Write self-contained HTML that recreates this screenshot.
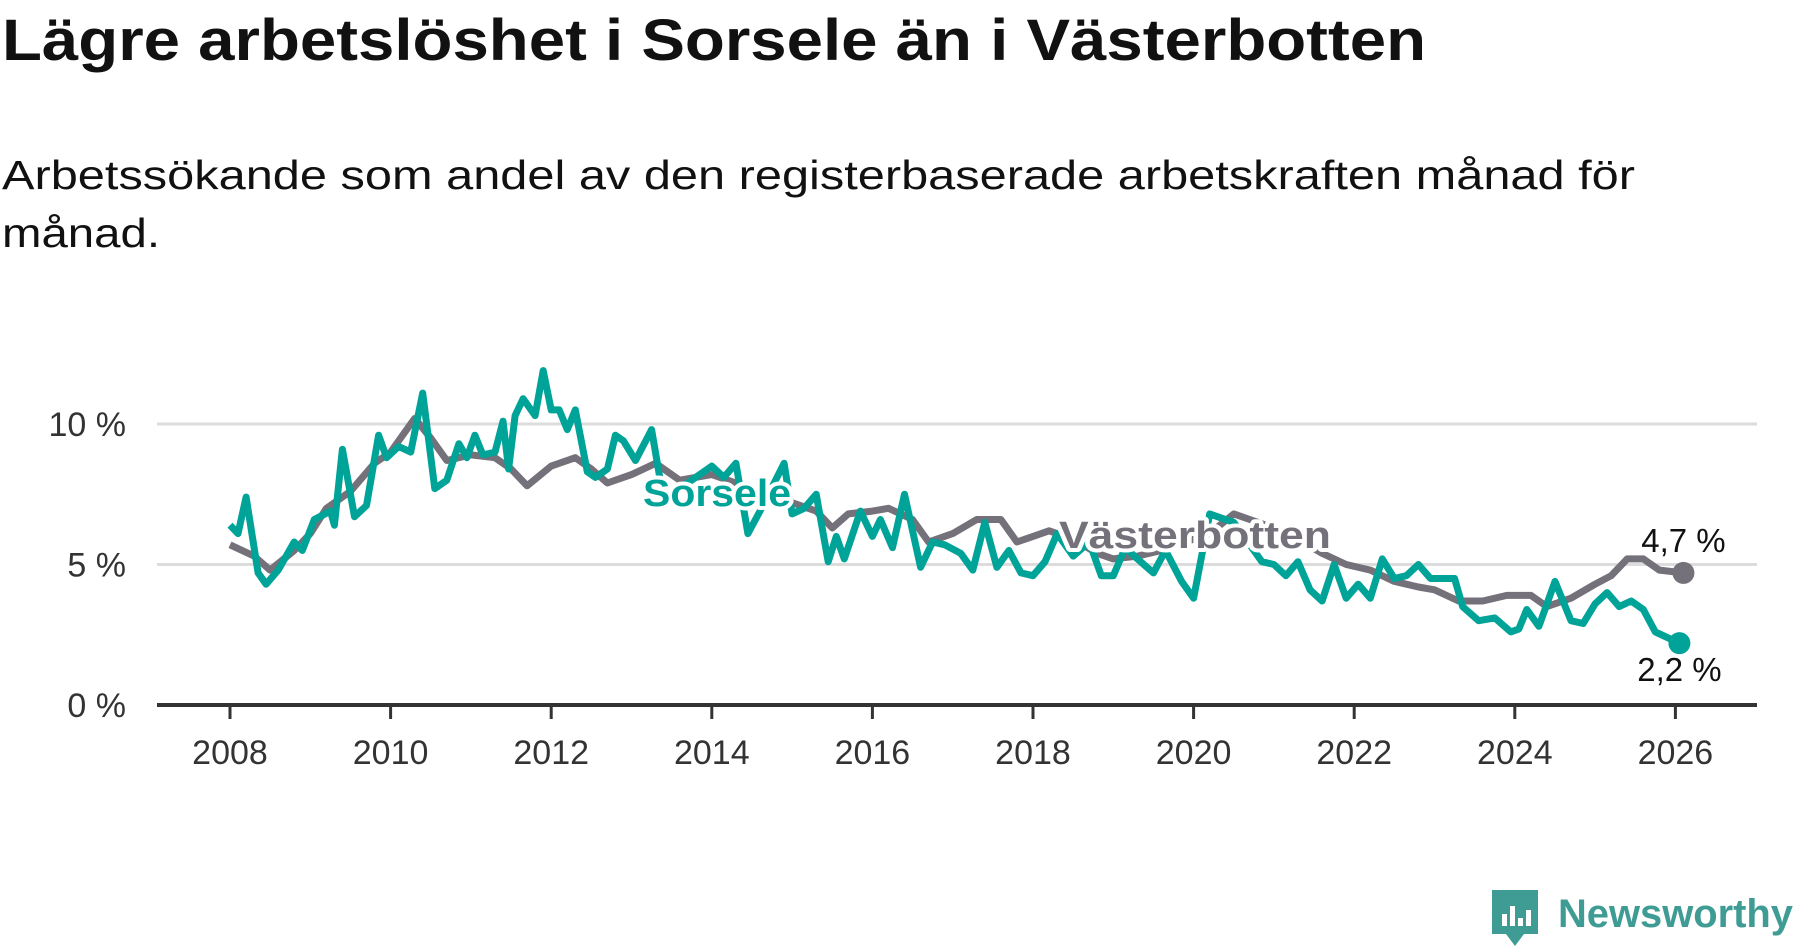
<!DOCTYPE html>
<html><head><meta charset="utf-8"><style>
html,body{margin:0;padding:0;background:#fff;}
svg{display:block;font-family:"Liberation Sans",sans-serif;}
</style></head><body>
<svg id="chart" width="1800" height="948" viewBox="0 0 1800 948" xmlns="http://www.w3.org/2000/svg">
<text x="2" y="60" font-size="58" font-weight="bold" fill="#111" textLength="1424" lengthAdjust="spacingAndGlyphs">Lägre arbetslöshet i Sorsele än i Västerbotten</text>
<text x="2" y="189" font-size="41" fill="#111" textLength="1633" lengthAdjust="spacingAndGlyphs">Arbetssökande som andel av den registerbaserade arbetskraften månad för</text>
<text x="2" y="247" font-size="41" fill="#111" textLength="158" lengthAdjust="spacingAndGlyphs">månad.</text>
<g id="grid"></g>
<g id="yticks"></g>
<g id="xticks"></g>
<g id="series"></g>
<g id="labels"></g>
<g>
<path d="M1492 890 h46 v44 h-14 l-9 12 l-9 -12 h-14 z" fill="#3f9c94"/>
<rect x="1502" y="914" width="5" height="12" fill="#fff"/><rect x="1510" y="906" width="5" height="20" fill="#fff"/><rect x="1518" y="918" width="5" height="8" fill="#fff"/><rect x="1526" y="910" width="5" height="16" fill="#fff"/>
<text x="1558" y="927" font-size="40" font-weight="bold" fill="#3f9c94" textLength="235" lengthAdjust="spacingAndGlyphs">Newsworthy</text>
</g>
</svg>
<script>
const yTicks=[0,5,10];
const yTickLabels=["0 %","5 %","10 %"];
const xTicks=[2008,2010,2012,2014,2016,2018,2020,2022,2024,2026];
const vbTimes=[2008.0,2008.3,2008.5,2008.8,2009.0,2009.2,2009.5,2009.8,2010.0,2010.3,2010.5,2010.7,2011.0,2011.3,2011.5,2011.7,2012.0,2012.3,2012.5,2012.7,2013.0,2013.3,2013.6,2014.0,2014.3,2014.6,2015.0,2015.3,2015.5,2015.7,2016.0,2016.2,2016.5,2016.7,2017.0,2017.3,2017.6,2017.8,2018.0,2018.2,2018.5,2018.8,2019.0,2019.3,2019.6,2019.9,2020.2,2020.5,2020.7,2021.0,2021.3,2021.6,2021.9,2022.2,2022.5,2022.8,2023.0,2023.3,2023.6,2023.9,2024.2,2024.4,2024.7,2025.0,2025.2,2025.4,2025.6,2025.8,2026.1];
const vbValues=[5.7,5.3,4.8,5.5,6.1,7.0,7.6,8.6,9.0,10.2,9.5,8.7,8.9,8.8,8.4,7.8,8.5,8.8,8.4,7.9,8.2,8.6,8.0,8.2,7.9,7.4,7.2,6.9,6.3,6.8,6.9,7.0,6.6,5.8,6.1,6.6,6.6,5.8,6.0,6.2,5.9,5.4,5.2,5.3,5.5,5.8,6.1,6.8,6.6,6.3,5.9,5.4,5.0,4.8,4.4,4.2,4.1,3.7,3.7,3.9,3.9,3.5,3.8,4.3,4.6,5.2,5.2,4.8,4.7];
const soTimes=[2008.0,2008.1,2008.2,2008.35,2008.45,2008.6,2008.8,2008.9,2009.05,2009.25,2009.3,2009.4,2009.55,2009.7,2009.85,2009.95,2010.1,2010.25,2010.4,2010.55,2010.7,2010.85,2010.95,2011.05,2011.15,2011.3,2011.4,2011.47,2011.55,2011.65,2011.8,2011.9,2012.0,2012.1,2012.2,2012.3,2012.45,2012.55,2012.7,2012.8,2012.9,2013.05,2013.25,2013.4,2013.8,2014.0,2014.15,2014.3,2014.45,2014.6,2014.9,2015.0,2015.15,2015.3,2015.45,2015.55,2015.65,2015.85,2016.0,2016.1,2016.25,2016.4,2016.6,2016.75,2016.9,2017.1,2017.25,2017.4,2017.55,2017.7,2017.85,2018.0,2018.15,2018.3,2018.5,2018.7,2018.85,2019.0,2019.15,2019.3,2019.5,2019.65,2019.85,2020.0,2020.2,2020.5,2020.85,2021.0,2021.15,2021.3,2021.45,2021.6,2021.75,2021.9,2022.05,2022.2,2022.35,2022.5,2022.65,2022.8,2022.95,2023.25,2023.35,2023.55,2023.75,2023.95,2024.05,2024.15,2024.3,2024.5,2024.7,2024.85,2025.0,2025.15,2025.3,2025.45,2025.6,2025.75,2025.9,2026.05];
const soValues=[6.4,6.1,7.4,4.7,4.3,4.8,5.8,5.5,6.6,6.9,6.4,9.1,6.7,7.1,9.6,8.8,9.2,9.0,11.1,7.7,8.0,9.3,8.8,9.6,8.9,9.0,10.1,8.4,10.3,10.9,10.3,11.9,10.5,10.5,9.8,10.5,8.3,8.1,8.4,9.6,9.4,8.7,9.8,7.3,8.1,8.5,8.1,8.6,6.1,6.9,8.6,6.8,7.0,7.5,5.1,6.0,5.2,6.9,6.0,6.6,5.6,7.5,4.9,5.8,5.7,5.4,4.8,6.5,4.9,5.5,4.7,4.6,5.1,6.1,5.3,5.8,4.6,4.6,5.6,5.2,4.7,5.5,4.4,3.8,6.8,6.5,5.1,5.0,4.6,5.1,4.1,3.7,5.0,3.8,4.3,3.8,5.2,4.5,4.6,5.0,4.5,4.5,3.5,3.0,3.1,2.6,2.7,3.4,2.8,4.4,3.0,2.9,3.6,4.0,3.5,3.7,3.4,2.6,2.4,2.2];

const NS="http://www.w3.org/2000/svg";
const X0=157,X1=1757;
function xs(t){return 230+(t-2008)*80.3;}
function ys(v){return 705-v*28.1;}
function mk(tag,attrs,parent){const e=document.createElementNS(NS,tag);for(const k in attrs)e.setAttribute(k,attrs[k]);parent.appendChild(e);return e;}
const grid=document.getElementById('grid'),yt=document.getElementById('yticks'),xt=document.getElementById('xticks'),ser=document.getElementById('series'),lab=document.getElementById('labels');
yTicks.forEach((v,i)=>{
  if(v>0){const l=mk('line',{x1:X0,x2:X1,y1:ys(v),y2:ys(v),stroke:'#dcdcdc','stroke-width':3},grid);
  
  }
  const t=mk('text',{x:126,y:ys(v)+12,'font-size':34,fill:'#333','text-anchor':'end'},yt);
  
  
  t.textContent=yTickLabels[i];
});
const ax=mk('line',{x1:X0,x2:X1,y1:ys(0),y2:ys(0),stroke:'#333','stroke-width':4},xt);


xTicks.forEach(yr=>{
  const tk=mk('line',{x1:xs(yr),x2:xs(yr),y1:ys(0),y2:ys(0)+14,stroke:'#333','stroke-width':3},xt);
  
  
  const t=mk('text',{x:xs(yr),y:764,'font-size':34,fill:'#333','text-anchor':'middle'},xt);
  
  
  t.textContent=yr;
});
function pathD(ts,vs){return ts.map((t,i)=>(i?'L':'M')+xs(t).toFixed(1)+' '+ys(vs[i]).toFixed(1)).join(' ');}
const vb=mk('path',{d:pathD(vbTimes,vbValues),fill:'none',stroke:'#74717a','stroke-width':7,'stroke-linejoin':'round'},ser);


const so=mk('path',{d:pathD(soTimes,soValues),fill:'none',stroke:'#00a398','stroke-width':7,'stroke-linejoin':'round'},ser);


const vl=vbValues.length-1,sl=soValues.length-1;
const d1=mk('circle',{cx:xs(vbTimes[vl]),cy:ys(vbValues[vl]),r:11,fill:'#74717a'},ser);


const d2=mk('circle',{cx:xs(soTimes[sl]),cy:ys(soValues[sl]),r:11,fill:'#00a398'},ser);


function label(txt,x,y,fs,col,bold,name,len){
  const a={x:x,y:y,'font-size':fs,fill:col,'text-anchor':'middle'};
  if(bold)a['font-weight']='bold';
  if(len){a.textLength=len;a.lengthAdjust='spacingAndGlyphs';}
  const h=mk('text',Object.assign({},a,{stroke:'#fff','stroke-width':8,'stroke-linejoin':'round'}),lab);
  h.textContent=txt;
  const t=mk('text',a,lab);
  
  
  t.textContent=txt;
}
label('Sorsele',717,506,38,'#00a398',true,'sorsele-label',148);
label('Västerbotten',1195,548,38,'#74717a',true,'vasterbotten-label',272);
label(String(vbValues[vl]).replace('.',',')+' %',xs(vbTimes[vl]),552,33,'#111',false,'vasterbotten-end-value');
label(String(soValues[sl]).replace('.',',')+' %',xs(soTimes[sl]),681,33,'#111',false,'sorsele-end-value');
</script>
</body></html>
